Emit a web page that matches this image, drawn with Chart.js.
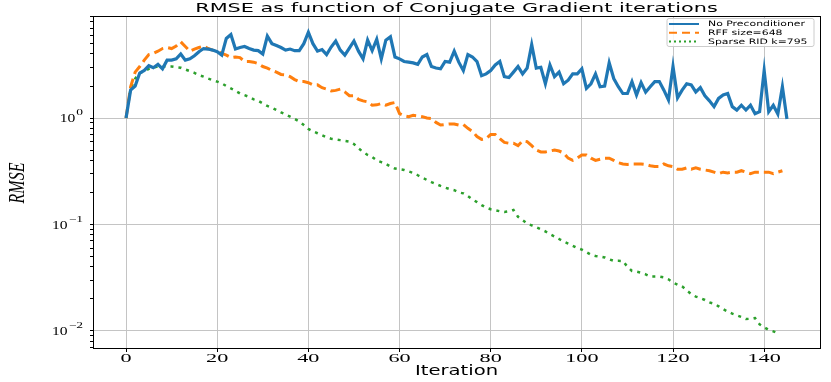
<!DOCTYPE html>
<html>
<head>
<meta charset="utf-8">
<script src="https://cdn.jsdelivr.net/npm/chart.js@4"></script>
<style>
  html, body { margin: 0; padding: 0; background: #fff; }
  #chart { display: block; }
</style>
</head>
<body>
<canvas id="chart" width="831" height="382"></canvas>
<script>
// RMSE per CG iteration
const noPrecond = [
  1.0, 1.83, 2.0, 2.65, 2.8, 3.1, 2.97, 3.2, 2.9, 3.5,
  3.5, 3.6, 4.0, 3.5, 3.6, 3.85, 4.2, 4.5, 4.45, 4.35,
  4.2, 3.9, 5.6, 6.1, 4.45, 4.6, 4.7, 4.5, 4.35, 4.3,
  4.0, 5.9, 5.0, 4.8, 4.6, 4.35, 4.45, 4.3, 4.3, 5.0,
  6.4, 5.0, 4.25, 4.4, 3.95, 4.65, 5.3, 4.35, 3.9, 4.55,
  5.3, 4.25, 3.6, 5.4, 4.3, 5.5, 3.6, 5.4, 5.8, 3.75,
  3.6, 3.4, 3.35, 3.3, 3.2, 3.75, 3.95, 3.05, 2.95, 2.9,
  3.4, 3.35, 4.25, 3.35, 2.8, 3.95, 3.75, 3.4, 2.5, 2.6,
  2.8, 3.15, 3.4, 2.45, 2.4, 2.7, 3.05, 2.6, 2.95, 4.9,
  2.95, 3.0, 2.1, 3.15, 2.45, 2.7, 2.1, 2.27, 2.6, 2.6,
  2.9, 1.9, 2.1, 2.6, 1.97, 2.0, 3.3, 2.35, 1.97, 1.7,
  1.7, 2.2, 1.65, 2.15, 1.75, 1.97, 2.2, 2.2, 1.83, 1.48,
  3.05, 1.55, 1.83, 2.1, 2.05, 1.76, 1.93, 1.62, 1.45, 1.28,
  1.53, 1.65, 1.7, 1.28, 1.19, 1.32, 1.19, 1.32, 1.1, 1.15,
  2.8, 1.15, 1.32, 1.09, 1.97, 0.98
];
const rff648 = [
  1.0, 1.97, 2.7, 3.05, 3.5, 3.95, 4.05, 4.25, 4.5, 4.6,
  4.5, 4.75, 5.2, 4.7, 4.25, 4.45, 4.6, 4.75, 4.5, 4.35,
  4.25, 4.05, 3.9, 3.7, 3.75, 3.7, 3.4, 3.4, 3.35, 3.25,
  3.05, 2.95, 2.8, 2.7, 2.57, 2.55, 2.45, 2.3, 2.2, 2.2,
  2.15, 2.05, 2.05, 1.93, 1.87, 1.8, 1.82, 1.87, 1.76, 1.62,
  1.62, 1.5, 1.45, 1.42, 1.32, 1.33, 1.37, 1.32, 1.37, 1.4,
  1.1, 1.05, 1.03, 1.06, 1.05, 1.03, 1.0, 0.99, 0.91, 0.86,
  0.87, 0.88, 0.88, 0.86, 0.87, 0.8, 0.75, 0.67, 0.63, 0.64,
  0.7, 0.7, 0.64, 0.59, 0.58, 0.58, 0.55, 0.61, 0.6, 0.55,
  0.5, 0.48, 0.48, 0.49, 0.5, 0.49, 0.47, 0.42, 0.4, 0.42,
  0.45, 0.45, 0.42, 0.4, 0.41, 0.42, 0.42, 0.4, 0.38, 0.37,
  0.366, 0.37, 0.37, 0.37, 0.366, 0.356, 0.35, 0.35, 0.37, 0.356,
  0.35, 0.33, 0.33, 0.34, 0.33, 0.34, 0.33, 0.325, 0.32, 0.31,
  0.3, 0.31, 0.305, 0.31, 0.31, 0.32, 0.31, 0.3, 0.31, 0.31,
  0.31, 0.31, 0.3, 0.31, 0.32
];
const sparseRid = [
  1.0, 1.9, 2.35, 2.65, 2.76, 2.9, 2.97, 3.05, 3.05, 3.05,
  3.05, 3.0, 2.97, 2.86, 2.76, 2.66, 2.53, 2.45, 2.35, 2.27,
  2.2, 2.12, 2.0, 1.9, 1.8, 1.7, 1.64, 1.58, 1.5, 1.45,
  1.37, 1.3, 1.25, 1.19, 1.13, 1.08, 1.03, 0.98, 0.93, 0.86,
  0.79, 0.75, 0.72, 0.69, 0.66, 0.64, 0.63, 0.62, 0.61, 0.60,
  0.57, 0.52, 0.48, 0.45, 0.43, 0.40, 0.385, 0.37, 0.35, 0.335,
  0.33, 0.325, 0.315, 0.305, 0.29, 0.275, 0.262, 0.25, 0.24, 0.23,
  0.222, 0.215, 0.21, 0.2, 0.196, 0.185, 0.172, 0.162, 0.152, 0.144,
  0.139, 0.136, 0.133, 0.131, 0.133, 0.137, 0.118, 0.11, 0.102, 0.098,
  0.094, 0.09, 0.086, 0.081, 0.077, 0.073, 0.069, 0.066, 0.063, 0.06,
  0.058, 0.055, 0.052, 0.0506, 0.05, 0.049, 0.047, 0.0455, 0.0455, 0.0454,
  0.04, 0.0365, 0.036, 0.0352, 0.034, 0.0324, 0.0324, 0.0324, 0.0318, 0.0305,
  0.0285, 0.0272, 0.0262, 0.024, 0.0222, 0.021, 0.0203, 0.0195, 0.0185, 0.018,
  0.017, 0.016, 0.0152, 0.0145, 0.014, 0.0135, 0.0129, 0.013, 0.0132, 0.0115,
  0.0108, 0.0102, 0.0099, 0.0095
];
const xTicks = [0, 20, 40, 60, 80, 100, 120, 140];
const yDecades = [0.01, 0.1, 1];
const yExponents = ['\u22122', '\u22121', '0'];

const toPoints = arr => arr.map((v, i) => ({ x: i, y: v }));

// the reference image is stretched sideways, so text is drawn with a x-scale
const SX = 1.5;
function wideText(ctx, text, x, y, font, sx, align) {
  ctx.save();
  ctx.font = font;
  ctx.textAlign = align || 'center';
  ctx.textBaseline = 'middle';
  ctx.translate(x, y);
  ctx.scale(sx, 1);
  ctx.fillText(text, 0, 0);
  ctx.restore();
}

// axes box, title, tick labels, axis labels and legend
const decor = {
  id: 'decor',
  afterDraw(chart) {
    const { ctx, chartArea: a, scales } = chart;
    ctx.save();
    ctx.strokeStyle = '#000';
    ctx.lineWidth = 1;
    ctx.strokeRect(Math.round(a.left) + 0.5, Math.round(a.top) + 0.5,
      Math.round(a.right - a.left), Math.round(a.bottom - a.top));
    ctx.fillStyle = '#000';

    wideText(ctx, 'RMSE as function of Conjugate Gradient iterations',
      (a.left + a.right) / 2, 9, '13px "DejaVu Sans"', 1.6);
    wideText(ctx, 'Iteration', (a.left + a.right) / 2, 371, '14px "DejaVu Sans"', 1.4);

    xTicks.forEach(v => {
      wideText(ctx, String(v), scales.x.getPixelForValue(v), 359, '12px "Liberation Serif"', 1.85);
    });

    yDecades.forEach((d, k) => {
      const y = scales.y.getPixelForValue(d);
      const right = a.left - 10;
      ctx.font = '9px "Liberation Serif"';
      const ew = ctx.measureText(yExponents[k]).width * SX;
      wideText(ctx, yExponents[k], right, y - 5, '9px "Liberation Serif"', SX, 'right');
      wideText(ctx, '10', right - ew - 1, y + 1, '12px "Liberation Serif"', 1.3, 'right');
    });

    // rotated y label, stretched across the text height
    ctx.save();
    ctx.translate(18, (a.top + a.bottom) / 2 + 1);
    ctx.rotate(-Math.PI / 2);
    ctx.scale(1, 1.5);
    ctx.font = 'italic 16px "Liberation Serif"';
    ctx.textAlign = 'center';
    ctx.textBaseline = 'middle';
    ctx.fillText('RMSE', 0, 0);
    ctx.restore();

    // legend box, upper right
    const x0 = a.right - 153, y0 = 18.5, w = 147, h = 28;
    ctx.fillStyle = 'rgba(255,255,255,0.85)';
    ctx.strokeStyle = '#cccccc';
    ctx.beginPath();
    ctx.roundRect(x0, y0, w, h, 2);
    ctx.fill();
    ctx.stroke();
    chart.data.datasets.forEach((ds, i) => {
      const y = 24 + 8.8 * i;
      ctx.strokeStyle = ds.borderColor;
      ctx.lineWidth = 2;
      ctx.setLineDash(ds.legendDash || []);
      ctx.beginPath();
      ctx.moveTo(x0 + 2, y);
      ctx.lineTo(x0 + 32, y);
      ctx.stroke();
      ctx.setLineDash([]);
      ctx.fillStyle = '#000';
      wideText(ctx, ds.label, x0 + 41, y, '7.5px "DejaVu Sans"', 1.45, 'left');
    });
    ctx.restore();
  }
};

const ctx = document.getElementById('chart').getContext('2d');
new Chart(ctx, {
  type: 'line',
  data: {
    datasets: [
      { label: 'No Preconditioner', data: toPoints(noPrecond), borderColor: '#1f77b4', backgroundColor: 'transparent', fill: false, borderWidth: 3.2 },
      { label: 'RFF size=648', data: toPoints(rff648), borderColor: '#ff7f0e', backgroundColor: 'transparent', fill: false, borderWidth: 3, borderDash: [10, 5], legendDash: [8, 5] },
      { label: 'Sparse RID k=795', data: toPoints(sparseRid), borderColor: '#2ca02c', backgroundColor: 'transparent', fill: false, borderWidth: 2.5, borderDash: [3, 5], legendDash: [2, 3] }
    ]
  },
  options: {
    responsive: false,
    animation: false,
    events: [],
    layout: { padding: { top: 16, right: 11, bottom: 0, left: 0 } },
    elements: { point: { radius: 0 }, line: { tension: 0 } },
    plugins: {
      legend: { display: false },
      tooltip: { enabled: false },
      title: { display: false }
    },
    scales: {
      x: {
        type: 'linear',
        min: -7.25,
        max: 152.25,
        afterBuildTicks: s => { s.ticks = xTicks.map(v => ({ value: v })); },
        afterFit: s => { s.height = 34; },
        ticks: { display: false },
        grid: { color: '#c4c4c4', lineWidth: 1, tickColor: '#000', tickLength: 4 },
        border: { color: '#000' }
      },
      y: {
        type: 'logarithmic',
        min: 0.0069,
        max: 9.1,
        afterBuildTicks: s => {
          const t = [];
          for (let e = -3; e <= 0; e++) {
            for (let m = 1; m <= 9; m++) {
              const v = m * Math.pow(10, e);
              if (v >= s.min && v <= s.max) t.push({ value: v });
            }
          }
          s.ticks = t;
        },
        afterFit: s => { s.width = 93; },
        ticks: { display: false },
        grid: {
          color: c => yDecades.some(d => Math.abs(d - c.tick.value) / d < 1e-6) ? '#c4c4c4' : 'rgba(0,0,0,0)',
          tickColor: '#000',
          tickLength: 3
        },
        border: { color: '#000' }
      }
    }
  },
  plugins: [decor]
});
</script>
</body>
</html>
